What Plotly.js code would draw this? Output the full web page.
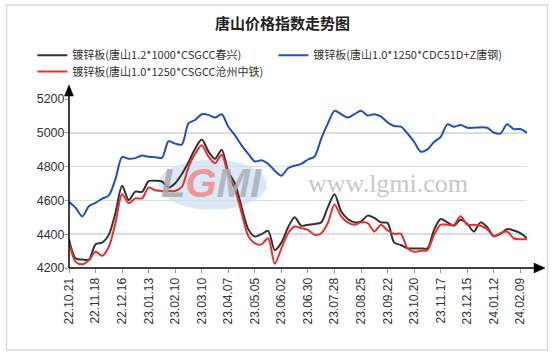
<!DOCTYPE html>
<html>
<head>
<meta charset="utf-8">
<script src="https://cdn.plot.ly/plotly-3.0.1.min.js"></script>
<style>html,body{margin:0;padding:0;background:#fff;}#chart{width:554px;height:362px;}</style>
</head>
<body>
<div id="chart"></div>
<script>
// ---- data ----
const startDate = '2022-10-21';   // first weekly observation
const weeks = 70;                  // weekly observations through 2024-02-16
const seriesNames = [
  '镀锌板(唐山1.2*1000*CSGCC春兴)',
  '镀锌板(唐山1.0*1250*CDC51D+Z唐钢)',
  '镀锌板(唐山1.0*1250*CSGCC沧州中铁)'
];
const chunxing = [4370,4256,4250,4250,4340,4350,4396,4526,4686,4602,
  4652,4650,4714,4716,4712,4676,4702,4756,4826,4906,
  4960,4890,4846,4900,4770,4700,4560,4430,4386,4400,
  4420,4306,4350,4440,4500,4450,4456,4460,4470,4560,
  4636,4536,4490,4470,4476,4510,4496,4470,4466,4350,
  4336,4316,4316,4316,4316,4426,4490,4470,4450,4486,
  4462,4416,4470,4442,4390,4402,4430,4422,4406,4376];
const tanggang = [4590,4556,4505,4566,4586,4610,4630,4726,4856,4846,
  4850,4866,4858,4856,4852,4950,4936,4930,5056,5076,
  5110,5106,5090,5110,5036,4986,4926,4876,4830,4838,
  4816,4776,4746,4790,4806,4816,4842,4860,4966,5056,
  5130,5110,5090,5110,5130,5102,5110,5096,5062,5040,
  5036,4996,4946,4888,4902,4946,4976,5050,5036,5046,
  5030,5030,5032,5030,5002,4996,5050,5022,5022,5000];
const cangzhou = [4356,4236,4222,4246,4296,4272,4326,4466,4636,4584,
  4612,4612,4676,4660,4656,4656,4656,4680,4796,4876,
  4926,4860,4820,4870,4750,4666,4526,4390,4346,4340,
  4376,4226,4316,4406,4446,4436,4426,4396,4406,4466,
  4576,4506,4470,4456,4470,4466,4416,4456,4422,4402,
  4402,4316,4296,4302,4306,4396,4456,4456,4456,4506,
  4456,4456,4450,4430,4386,4406,4416,4376,4370,4370];
const yTicks = [4200,4400,4600,4800,5000,5200];
const xTickStart = '2022-10-21';
const xTickStepDays = 28;

// ---- build ----
function weeklyDates(start, n){
  const out = [];
  const d0 = new Date(start + 'T00:00:00Z');
  for (let i = 0; i < n; i++) {
    const d = new Date(d0.getTime() + i*7*86400000);
    out.push(d.toISOString().slice(0,10));
  }
  return out;
}
const dates = weeklyDates(startDate, weeks);
const colors = ['#333333', '#2150c0', '#e8302f'];
const values = [chunxing, tanggang, cangzhou];
const legendIds = ['legend', 'legend', 'legend2'];

const traces = values.map((v, k) => ({
  type: 'scatter', mode: 'lines', x: dates, y: v, name: seriesNames[k],
  legend: legendIds[k],
  line: {color: colors[k], width: 2, shape: 'spline', smoothing: 0.8},
  hoverinfo: 'x+y'
}));

const font = 'Liberation Sans, Arial, Noto Sans CJK SC, sans-serif';
const legFont = {family: 'Noto Sans CJK SC, sans-serif', size: 11, color: '#333333'};
const pxX = 458, pxY = 169;
const layout = {
  width: 554, height: 362,
  margin: {l: 69, r: 27, t: 99, b: 94},
  paper_bgcolor: '#ffffff', plot_bgcolor: '#ffffff',
  font: {family: font, color: '#333333', size: 11},
  title: {text: '<b>唐山价格指数走势图</b>', x: 0.51, xanchor: 'center', y: 0.935, yanchor: 'middle',
          font: {family: 'Noto Sans CJK SC, sans-serif', size: 15, color: '#222222'}},
  showlegend: true,
  legend: {orientation: 'h', x: -0.08, xanchor: 'left', y: 1.345, yanchor: 'top',
           entrywidth: 196, entrywidthmode: 'pixels', itemwidth: 30, tracegroupgap: 0,
           font: legFont, bgcolor: 'rgba(0,0,0,0)'},
  legend2: {orientation: 'h', x: -0.08, xanchor: 'left', y: 1.248, yanchor: 'top',
           itemwidth: 30, font: legFont, bgcolor: 'rgba(0,0,0,0)'},
  xaxis: {type: 'date', range: [dates[0], dates[dates.length-1]],
          tick0: xTickStart, dtick: xTickStepDays*86400000, tickformat: '%y.%m.%d',
          tickangle: -90, ticks: 'outside', ticklen: 4, tickcolor: '#999999', tickwidth: 1,
          showgrid: false, showline: false, zeroline: false,
          tickfont: {family: font, size: 12, color: '#333333'}},
  yaxis: {range: [4200, 5200], tickvals: yTicks, ticks: 'outside', ticklen: 3, tickcolor: '#999999',
          ticklabelstandoff: -2,
          showgrid: true, gridcolor: '#dddddd', gridwidth: 1.5, showline: false, zeroline: false,
          tickfont: {family: font, size: 12.5, color: '#333333'}},
  shapes: [
    // outer frame
    {type: 'rect', xref: 'paper', yref: 'paper', x0: (6.5-69)/pxX, x1: (547.5-69)/pxX,
     y0: (268-350)/pxY, y1: (268-5)/pxY, line: {color: '#d9d9d9', width: 1.5}, layer: 'below'},
    // watermark ellipse
    {type: 'circle', xref: 'paper', yref: 'paper', x0: (157-69)/pxX, x1: (268-69)/pxX,
     y0: (268-211)/pxY, y1: (268-158)/pxY,
     fillcolor: 'rgba(175,205,235,0.45)', line: {color: 'rgba(255,255,255,0.9)', width: 3}, layer: 'below'},
    // axes
    {type: 'line', xref: 'paper', yref: 'paper', x0: 0, x1: (536-69)/pxX, y0: 0, y1: 0,
     line: {color: '#000000', width: 1.5}, layer: 'above'},
    {type: 'line', xref: 'paper', yref: 'paper', x0: 0, x1: 0, y0: 0, y1: (268-94)/pxY,
     line: {color: '#000000', width: 1.5}, layer: 'above'},
    {type: 'path', xref: 'paper', yref: 'paper',
     path: `M ${(534-69)/pxX} ${5/pxY} L ${(545-69)/pxX} 0 L ${(534-69)/pxX} ${-5/pxY} Z`,
     fillcolor: '#000000', line: {color: '#000000', width: 0.5}, layer: 'above'},
    {type: 'path', xref: 'paper', yref: 'paper',
     path: `M ${-4.5/pxX} ${(268-96)/pxY} L 0 ${(268-85)/pxY} L ${4.5/pxX} ${(268-96)/pxY} Z`,
     fillcolor: '#000000', line: {color: '#000000', width: 0.5}, layer: 'above'}
  ],
  annotations: [
    {xref: 'paper', yref: 'paper', x: (211-69)/pxX, y: (268-183)/pxY, xanchor: 'center', yanchor: 'middle',
     text: '<i><b><span style="color:#a9a9a9">L</span><span style="color:#f08a8a">G</span><span style="color:#a9b0b8">MI</span></b></i>',
     showarrow: false, font: {family: 'Liberation Sans, Arial, sans-serif', size: 40}, opacity: 0.85},
    {xref: 'paper', yref: 'paper', x: (388-69)/pxX, y: (268-183)/pxY, xanchor: 'center', yanchor: 'middle',
     text: 'www.lgmi.com', showarrow: false,
     font: {family: 'Liberation Serif, DejaVu Serif, serif', size: 26, color: '#c8c8c8'}}
  ]
};

Plotly.newPlot('chart', traces, layout, {displayModeBar: false, staticPlot: true});
</script>
</body>
</html>
